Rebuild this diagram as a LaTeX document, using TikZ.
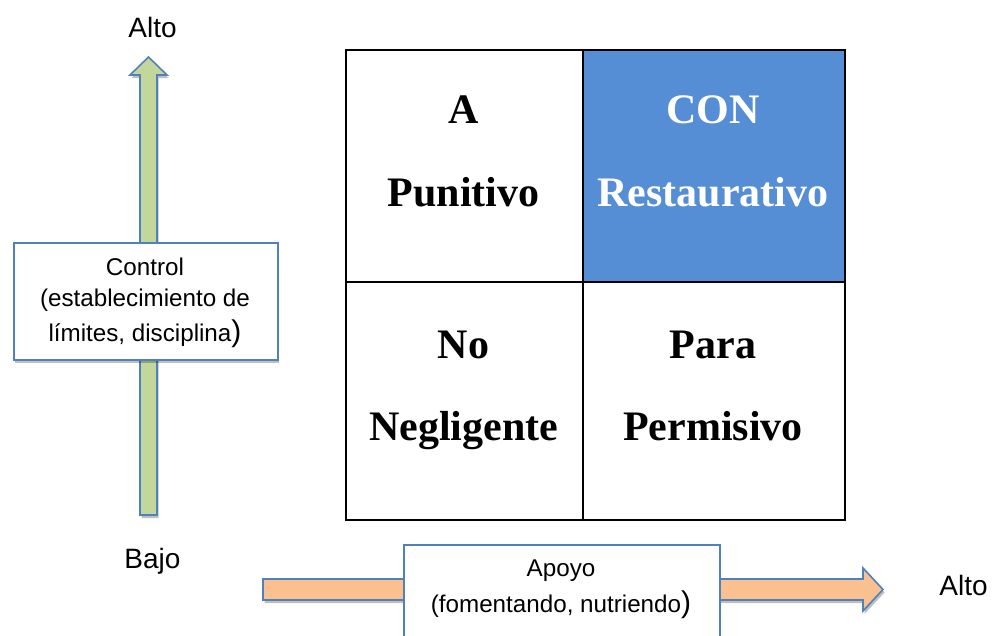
\documentclass[tikz,border=0pt]{standalone}
\usepackage{fontspec}
\setmainfont{Liberation Sans}
\newfontfamily\serifbold{Liberation Serif}
\usetikzlibrary{shadows}
\definecolor{bordblue}{RGB}{79,129,189}
\definecolor{cellblue}{RGB}{85,142,213}
\definecolor{greenfill}{RGB}{195,214,155}
\definecolor{orangefill}{RGB}{250,192,144}
\begin{document}
\begin{tikzpicture}[x=1pt,y=-1pt,
  softshadow/.style={drop shadow={shadow xshift=1.5pt, shadow yshift=-3pt, opacity=0.25, fill=black}},
  blockarrow/.style={draw=bordblue, line width=1.6pt, line join=miter, softshadow},
  labelbox/.style={draw=bordblue, fill=white, line width=1.6pt, inner sep=0pt, anchor=north west, softshadow},
  cellbox/.style={draw=black, line width=2.2pt, inner sep=0pt, anchor=north west},
  gridtext/.style={font=\serifbold\bfseries\fontsize{42}{42}\selectfont, anchor=base, inner sep=0pt},
  sidetext/.style={font=\fontsize{28}{28}\selectfont, anchor=base, inner sep=0pt},
  boxtext/.style={font=\fontsize{24.2}{24.2}\selectfont, anchor=base, inner sep=0pt}]
\useasboundingbox (0,0) rectangle (992,635);
\clip (0,0) rectangle (992,635);
\fill[white] (0,0) rectangle (992,635);

% grid
\node[cellbox, minimum width=237pt, minimum height=232pt] (tl) at (345,49) {};
\node[cellbox, fill=cellblue, minimum width=262pt, minimum height=232pt] (tr) at (582,49) {};
\node[cellbox, minimum width=237pt, minimum height=238pt] (bl) at (345,281) {};
\node[cellbox, minimum width=262pt, minimum height=238pt] (br) at (582,281) {};

\node[gridtext] (ta) at (463.5,123) {A};
\node[gridtext] (tb) at (463.5,206) {Punitivo};
\node[gridtext, text=white] (tc) at (713,123) {CON};
\node[gridtext, text=white] (td) at (713,206) {Restaurativo};
\node[gridtext] (te) at (463.5,358) {No};
\node[gridtext] (tf) at (463.5,440) {Negligente};
\node[gridtext] (tg) at (713,358) {Para};
\node[gridtext] (th) at (713,440) {Permisivo};

% vertical arrow
\path[blockarrow, fill=greenfill] (140,515) -- (140,75) -- (130,75) -- (148.5,57) -- (167,75) -- (157,75) -- (157,515) -- cycle;
\node[labelbox, minimum width=264pt, minimum height=117pt] (ctrl) at (13,242) {};
\node[boxtext] (c1) at (145,275) {Control};
\node[boxtext] (c2) at (145,306) {(establecimiento de};
\node[boxtext] (c3) at (145,341) {límites, disciplina{\fontsize{30}{30}\selectfont)}};

\node[sidetext] (altotop) at (152.5,37) {Alto};
\node[sidetext] (bajo) at (152.5,568) {Bajo};

% horizontal arrow
\path[blockarrow, fill=orangefill] (263,579) -- (863,579) -- (863,568) -- (883,589.5) -- (863,611) -- (863,600) -- (263,600) -- cycle;
\node[labelbox, minimum width=316pt, minimum height=120pt] (apoyo) at (403,544) {};
\node[boxtext] (a1) at (561,576) {Apoyo};
\node[boxtext] (a2) at (561,612) {(fomentando, nutriendo{\fontsize{30}{30}\selectfont)}};

\node[sidetext] (altoright) at (963.5,595) {Alto};
\end{tikzpicture}
\end{document}
